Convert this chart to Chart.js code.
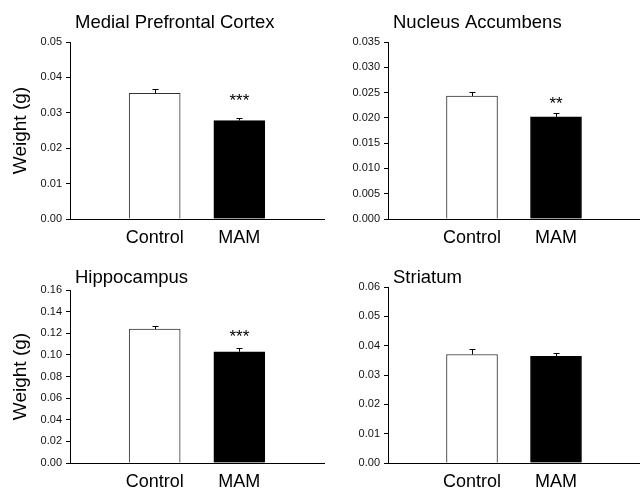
<!DOCTYPE html>
<html>
<head>
<meta charset="utf-8">
<script src="https://cdn.jsdelivr.net/npm/chart.js@4"></script>
<style>
  html, body { margin: 0; padding: 0; background: #fff; }
  #wrap { position: relative; width: 640px; height: 491px; overflow: hidden; }
  .panel { position: absolute; }
</style>
</head>
<body>
<div id="wrap">
  <div class="panel" style="left:0;top:0;width:330px;height:245px"><canvas id="mpfc"></canvas></div>
  <div class="panel" style="left:330px;top:0;width:310px;height:245px"><canvas id="nacc"></canvas></div>
  <div class="panel" style="left:0;top:245px;width:330px;height:246px"><canvas id="hipp"></canvas></div>
  <div class="panel" style="left:330px;top:245px;width:310px;height:246px"><canvas id="stri"></canvas></div>
</div>
<script>
// Groups on the x axis
const groups = ['Control', 'MAM'];

// Mean regional weight (g) and SEM per group
const mpfcMean = [0.0355, 0.0278];
const mpfcSem  = [0.0012, 0.0008];
const naccMean = [0.0243, 0.0202];
const naccSem  = [0.0009, 0.0008];
const hippMean = [0.1239, 0.1029];
const hippSem  = [0.0031, 0.0035];
const striMean = [0.0370, 0.0364];
const striSem  = [0.0017, 0.0012];

// Significance markers per group
const mpfcSig = ['', '***'];
const naccSig = ['', '**'];
const hippSig = ['', '***'];
const striSig = ['', ''];

// Y tick values
const mpfcTicks = [0, 0.01, 0.02, 0.03, 0.04, 0.05];
const naccTicks = [0, 0.005, 0.010, 0.015, 0.020, 0.025, 0.030, 0.035];
const hippTicks = [0, 0.02, 0.04, 0.06, 0.08, 0.10, 0.12, 0.14, 0.16];
const striTicks = [0, 0.01, 0.02, 0.03, 0.04, 0.05, 0.06];

const FONT = "'Liberation Sans', Arial, Helvetica, sans-serif";
Chart.defaults.font.family = FONT;
Chart.defaults.color = '#111';
Chart.defaults.animation = false;

// Error bars (upper half only) drawn from the bar tops
const errorBars = {
  id: 'errorBars',
  afterDatasetsDraw(chart, args, opts) {
    const { ctx, scales: { x, y } } = chart;
    ctx.save();
    ctx.strokeStyle = '#000';
    ctx.lineWidth = 1;
    opts.mean.forEach((m, i) => {
      const cx = Math.round(x.getPixelForValue(i + 1)) + 0.5;
      const yb = y.getPixelForValue(m);
      const yt = Math.round(y.getPixelForValue(m + opts.sem[i])) + 0.5;
      ctx.beginPath();
      ctx.moveTo(cx, yb);
      ctx.lineTo(cx, yt);
      ctx.moveTo(cx - 3, yt);
      ctx.lineTo(cx + 3, yt);
      ctx.stroke();
    });
    ctx.restore();
  }
};

// Significance stars, level with the Control bar top
const sigMarks = {
  id: 'sigMarks',
  afterDatasetsDraw(chart, args, opts) {
    const { ctx, scales: { x, y } } = chart;
    const ref = y.getPixelForValue(opts.mean[0]);
    ctx.save();
    ctx.fillStyle = '#000';
    ctx.font = '17px ' + FONT;
    ctx.textAlign = 'center';
    ctx.textBaseline = 'alphabetic';
    opts.sig.forEach((s, i) => {
      if (!s) return;
      ctx.fillText(s, x.getPixelForValue(i + 1), ref + 13);
    });
    ctx.restore();
  }
};

// Panel heading, left-aligned just right of the y axis
const panelTitle = {
  id: 'panelTitle',
  afterDraw(chart, args, opts) {
    const { ctx, chartArea } = chart;
    ctx.save();
    ctx.fillStyle = '#000';
    ctx.font = '18.5px ' + FONT;
    ctx.textAlign = 'left';
    ctx.textBaseline = 'alphabetic';
    ctx.fillText(opts.text, chartArea.left + 5, opts.baseline);
    ctx.restore();
  }
};

function makePanel(id, title, mean, sem, sig, ticks, dec, cfg) {
  new Chart(document.getElementById(id), {
    type: 'bar',
    data: {
      datasets: [{
        data: mean.map((v, i) => ({ x: i + 1, y: v })),
        backgroundColor: ['#ffffff', '#000000'],
        borderColor: ['#333333', '#000000'],
        borderWidth: 1,
        borderSkipped: 'bottom',
        barThickness: 51
      }]
    },
    options: {
      responsive: true,
      maintainAspectRatio: false,
      layout: { padding: { top: cfg.top, right: cfg.right, bottom: 0, left: 0 } },
      plugins: {
        legend: { display: false },
        tooltip: { enabled: false },
        errorBars: { mean, sem },
        sigMarks: { mean, sig },
        panelTitle: { text: title, baseline: cfg.titleBase }
      },
      scales: {
        x: {
          type: 'linear',
          offset: false,
          min: 0,
          max: 3,
          afterBuildTicks(scale) { scale.ticks = groups.map((g, i) => ({ value: i + 1 })); },
          afterFit(scale) { scale.height = cfg.xh; },
          ticks: {
            font: { size: 18 },
            color: '#000',
            padding: 8,
            autoSkip: false,
            maxRotation: 0,
            callback: (v) => groups[v - 1] || ''
          },
          grid: { display: false, drawTicks: false },
          border: { display: true, color: '#000', width: 1 }
        },
        y: {
          min: ticks[0],
          max: ticks[ticks.length - 1],
          afterBuildTicks(scale) { scale.ticks = ticks.map(v => ({ value: v })); },
          afterFit(scale) { scale.width = cfg.yw; },
          ticks: {
            font: { size: 11 },
            color: '#111',
            padding: 4,
            callback: (v) => Number(v).toFixed(dec)
          },
          grid: { display: true, drawOnChartArea: false, drawTicks: true, tickLength: 4, color: '#000' },
          border: { display: true, color: '#000', width: 1 },
          title: {
            display: cfg.yTitle,
            text: 'Weight (g)',
            color: '#000',
            font: { size: 19 },
            padding: { top: 9, bottom: 0 }
          }
        }
      }
    },
    plugins: [errorBars, sigMarks, panelTitle]
  });
}

makePanel('mpfc', 'Medial Prefrontal Cortex', mpfcMean, mpfcSem, mpfcSig, mpfcTicks, 2,
  { top: 42, right: 6, xh: 26, yw: 70, yTitle: true, titleBase: 28 });
makePanel('nacc', 'Nucleus Accumbens', naccMean, naccSem, naccSig, naccTicks, 3,
  { top: 42, right: 0, xh: 26, yw: 58, yTitle: false, titleBase: 27.5 });
makePanel('hipp', 'Hippocampus', hippMean, hippSem, hippSig, hippTicks, 2,
  { top: 45, right: 6, xh: 28, yw: 70, yTitle: true, titleBase: 38 });
makePanel('stri', 'Striatum', striMean, striSem, striSig, striTicks, 2,
  { top: 42, right: 0, xh: 28, yw: 58, yTitle: false, titleBase: 37.5 });
</script>
</body>
</html>
